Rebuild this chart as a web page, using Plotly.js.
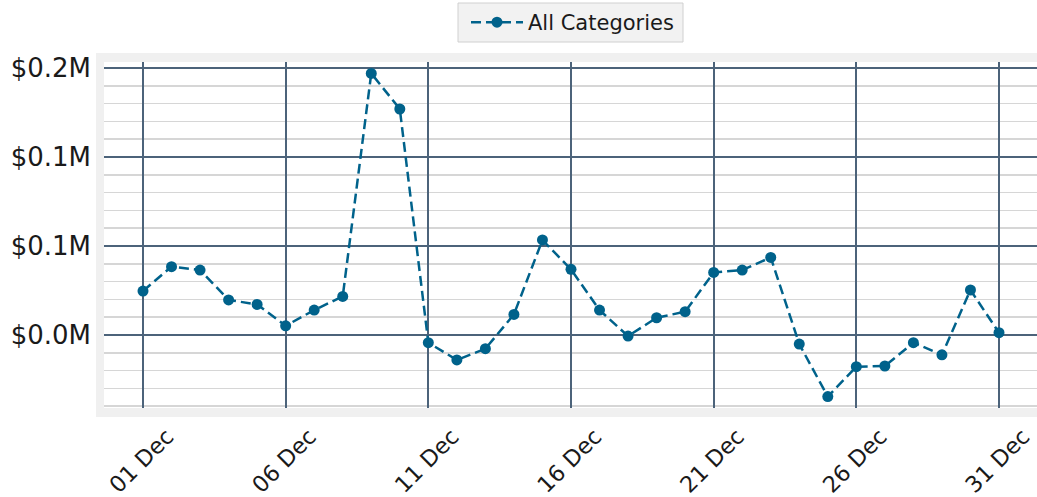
<!DOCTYPE html>
<html>
<head>
<meta charset="utf-8">
<script src="https://cdn.plot.ly/plotly-3.0.1.min.js"></script>
<style>html,body{margin:0;padding:0;background:#fff;}#chart{width:1037px;height:497px;}</style>
</head>
<body>
<div id="chart"></div>
<script>
const dates = ["2023-12-01","2023-12-02","2023-12-03","2023-12-04","2023-12-05","2023-12-06","2023-12-07","2023-12-08","2023-12-09","2023-12-10","2023-12-11","2023-12-12","2023-12-13","2023-12-14","2023-12-15","2023-12-16","2023-12-17","2023-12-18","2023-12-19","2023-12-20","2023-12-21","2023-12-22","2023-12-23","2023-12-24","2023-12-25","2023-12-26","2023-12-27","2023-12-28","2023-12-29","2023-12-30","2023-12-31"];
const values = [24700, 38400, 36500, 19700, 17200, 5200, 14000, 21700, 147000, 127000, -4300, -14000, -7700, 11600, 53400, 36900, 14000, -600, 9700, 13100, 35200, 36500, 43600, -5100, -34600, -17800, -17400, -4300, -11100, 25300, 1300];
const seriesName = "All Categories";
const xTickVals = ["2023-12-01","2023-12-06","2023-12-11","2023-12-16","2023-12-21","2023-12-26","2023-12-31"];
const xTickText = ["01 Dec","06 Dec","11 Dec","16 Dec","21 Dec","26 Dec","31 Dec"];
const yTickVals = [0, 50000, 100000, 150000];
const yTickText = ["$0.0M","$0.1M","$0.1M","$0.2M"];

const lineColor = "#00628b";
const majorGrid = "#4c637a";
const minorGrid = "#d6d6d6";
const font = "DejaVu Sans, sans-serif";

const trace = {
  x: dates, y: values, name: seriesName, type: "scatter", mode: "lines+markers",
  line: {color: lineColor, width: 2.5, dash: "10px,5px"},
  marker: {color: lineColor, size: 11}
};

// plot area in px: x 104..1037, y 62..408
const px = v => (v - 104) / 933;
const py = v => (408 - v) / 346;

const layout = {
  width: 1037, height: 497,
  margin: {l: 104, r: 0, t: 62, b: 89},
  paper_bgcolor: "#ffffff", plot_bgcolor: "#ffffff",
  font: {family: font, color: "#1a1a1a"},
  showlegend: true,
  legend: {
    orientation: "h", x: px(466), xanchor: "left", y: py(22.5), yanchor: "middle",
    bgcolor: "rgba(0,0,0,0)", borderwidth: 0, itemwidth: 52,
    font: {family: font, size: 21, color: "#1a1a1a"}
  },
  xaxis: {
    type: "date",
    range: ["2023-11-29 15:12", "2024-01-01 07:58"],
    tickmode: "array", tickvals: xTickVals, ticktext: xTickText,
    tickangle: -45, tickfont: {family: font, size: 22.5, color: "#1a1a1a"},
    ticklabelshift: 24, ticklabelstandoff: 10, ticklabeloverflow: "allow",
    showgrid: true, gridcolor: majorGrid, gridwidth: 1.8,
    zeroline: false, showline: false, ticks: ""
  },
  yaxis: {
    range: [-41000, 153400],
    tickmode: "array", tickvals: yTickVals, ticktext: yTickText,
    tickfont: {family: font, size: 26, color: "#1a1a1a"},
    ticklabelstandoff: 12,
    showgrid: true, gridcolor: majorGrid, gridwidth: 1.6,
    minor: {dtick: 10000, showgrid: true, gridcolor: minorGrid, gridwidth: 1.5, ticks: ""},
    zeroline: false, showline: false, ticks: ""
  },
  shapes: [
    {type: "rect", xref: "paper", yref: "paper", x0: px(96), x1: 1.05, y0: py(417), y1: py(53),
     fillcolor: "#f0f0f0", line: {width: 0}, layer: "below"},
    {type: "rect", xref: "paper", yref: "paper", x0: 0, x1: 1.05, y0: 0, y1: 1,
     fillcolor: "#ffffff", line: {width: 0}, layer: "below"},
    {type: "rect", xref: "paper", yref: "paper", x0: px(458), x1: px(683), y0: py(42), y1: py(3),
     fillcolor: "#f2f2f2", line: {width: 1, color: "#d0d0d0"}, layer: "below"}
  ]
};

Plotly.newPlot("chart", [trace], layout, {displayModeBar: false, staticPlot: true});
</script>
</body>
</html>
